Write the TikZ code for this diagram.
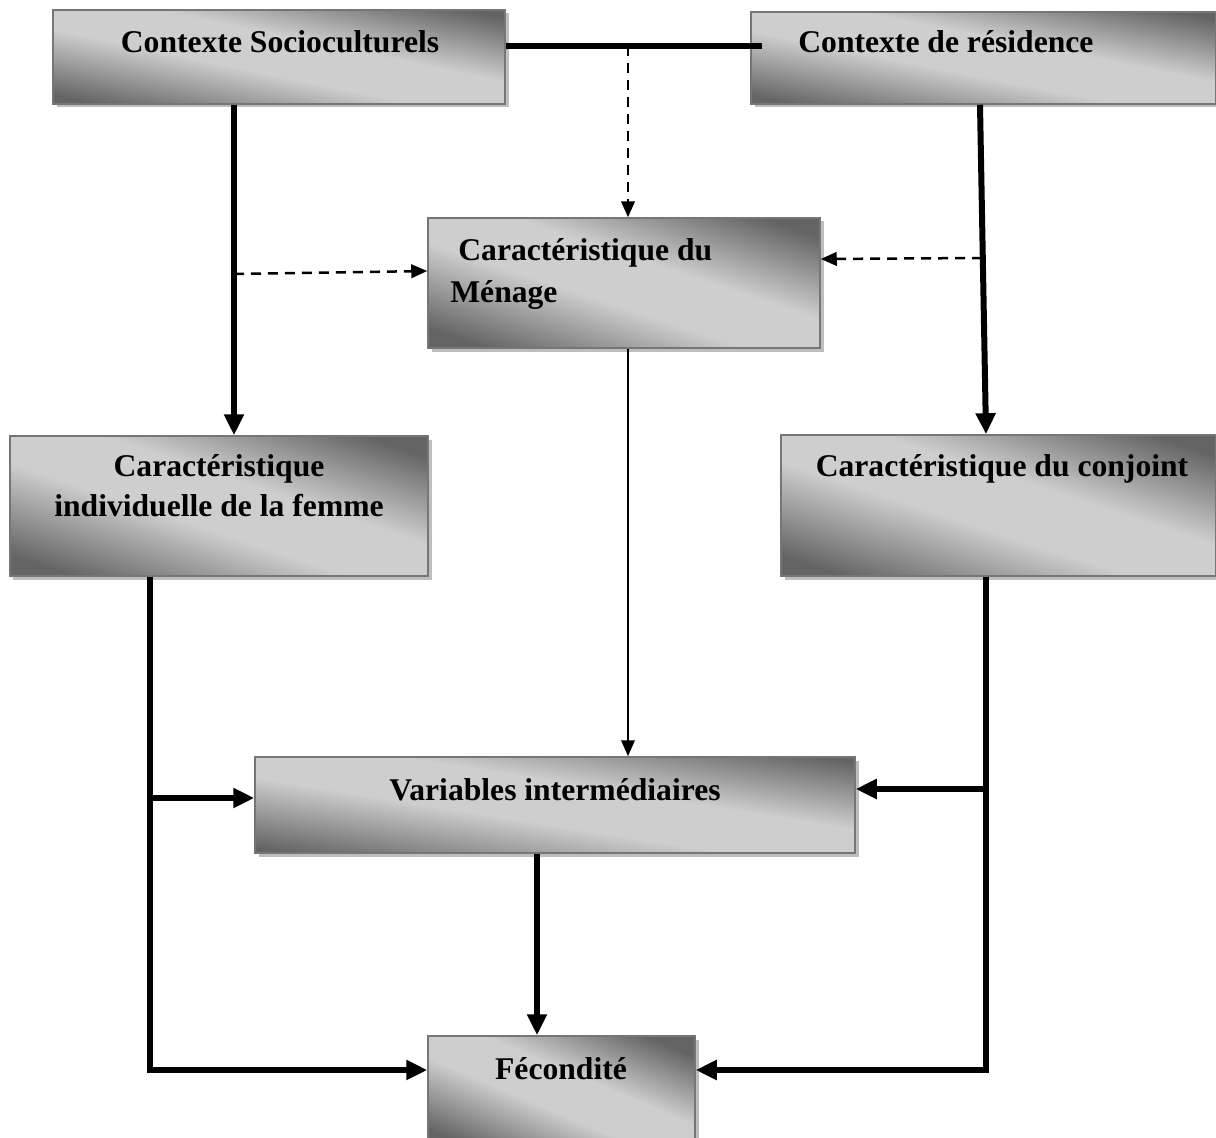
\documentclass[tikz,border=0pt]{standalone}
\usepackage{fontspec}
\setmainfont{Liberation Serif}
\usetikzlibrary{arrows.meta,fit,shadows}
\definecolor{boxdark}{RGB}{100,100,100}
\definecolor{boxlight}{RGB}{206,206,206}
\definecolor{boxedge}{RGB}{118,118,118}
\definecolor{boxshadow}{RGB}{190,190,190}
\pgfdeclareverticalshading{boxgrad}{100bp}{color(0bp)=(boxdark); color(23bp)=(boxdark); color(44bp)=(boxlight); color(57bp)=(boxlight); color(77bp)=(boxdark); color(100bp)=(boxdark)}

\begin{document}
\begin{tikzpicture}[x=0.02cm,y=-0.02cm,
    box/.style={draw=boxedge,line width=0.03cm,shading=boxgrad,shading angle=#1,inner sep=0pt,
      drop shadow={shadow xshift=0.07cm,shadow yshift=-0.07cm,fill=boxshadow,opacity=1}},
    lbl/.style={font=\bfseries\fontsize{18}{22.7}\selectfont,inner sep=0pt},
    bold/.style={line width=0.12cm},
    boldarrow/.style={bold,-{Triangle[length=0.42cm,width=0.38cm]}},
    dasharrow/.style={line width=0.05cm,dash pattern=on 0.2cm off 0.14cm,-{Triangle[length=0.32cm,width=0.27cm]}},
    thinarrow/.style={line width=0.04cm,-{Triangle[length=0.32cm,width=0.27cm]}}]
  \useasboundingbox (0,0) rectangle (1216,1138);

  % boxes (shading tilted along the box diagonal)
  \node[box=-11.7,fit={(53,10) (505,104)}] (soc) {};
  \node[box=-11.2,fit={(751,12) (1216,104)}] (res) {};
  \node[box=-18.3,fit={(428,218) (820,348)}] (men) {};
  \node[box=-18.5,fit={(10,436) (428,576)}] (fem) {};
  \node[box=-18.0,fit={(781,435) (1216,576)}] (conj) {};
  \node[box=-9.1,fit={(255,757) (855,853)}] (var) {};
  \node[box=-23.1,fit={(428,1036) (695,1150)}] (fec) {};

  % texts
  \node[lbl,anchor=base] (tsoc) at (280,53) {Contexte Socioculturels};
  \node[lbl,anchor=base west] (tres) at (798,53) {Contexte de résidence};
  \node[lbl,anchor=base west] (tmen1) at (458,261) {Caractéristique du};
  \node[lbl,anchor=base west] (tmen2) at (450,302) {Ménage};
  \node[lbl,anchor=base,align=center] (tfem) at (219,516) {Caractéristique\\individuelle de la femme};
  \node[lbl,anchor=base] (tconj) at (1002,476) {Caractéristique du conjoint};
  \node[lbl,anchor=base] (tvar) at (555,800) {Variables intermédiaires};
  \node[lbl,anchor=base] (tfec) at (561,1079) {Fécondité};

  % trunks
  \coordinate (top) at (628,46);
  \coordinate (xl) at (234,0);
  \coordinate (xr1) at (980,0);
  \coordinate (xr2) at (986,0);
  \coordinate (xd) at (150,0);
  \coordinate (xm) at (537,0);
  \coordinate (yg) at (0,1070);

  \draw[bold] (soc.east |- top) -- ([xshift=0.24cm]res.west |- top);
  \draw[dasharrow] (top) -- (top |- men.north);
  \draw[boldarrow] (xl |- soc.south) -- (xl |- fem.north);
  \draw[dasharrow] (234,274) -- ([yshift=0.24cm]men.west);
  \draw[boldarrow] (xr1 |- res.south) -- (xr2 |- conj.north);
  \draw[dasharrow] (982,258) -- ([yshift=0.48cm]men.east);
  \draw[thinarrow] (top |- men.south) -- (top |- var.north);
  \draw[boldarrow] (xm |- var.south) -- (xm |- fec.north);

  \draw[boldarrow] (xd |- fem.south) -- (xd |- yg) -- (fec.west |- yg);
  \draw[boldarrow] (150,798) -- (var.west |- 0,798);
  \draw[boldarrow] (xr2 |- conj.south) -- (xr2 |- yg) -- (fec.east |- yg);
  \draw[boldarrow] (986,789) -- (var.east |- 0,789);
\end{tikzpicture}
\end{document}
